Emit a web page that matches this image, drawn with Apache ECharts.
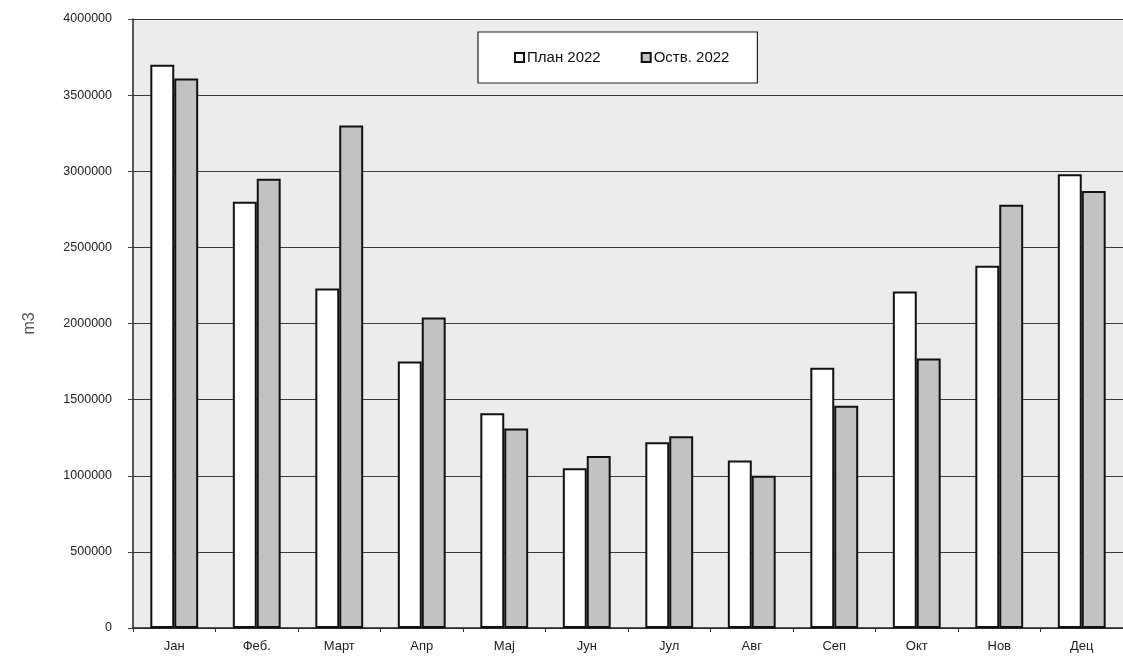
<!DOCTYPE html>
<html>
<head>
<meta charset="utf-8">
<script src="https://cdn.jsdelivr.net/npm/echarts@6/dist/echarts.min.js"></script>
<style>
html,body{margin:0;padding:0;background:#fff;}
#chart{width:1123px;height:665px;}
</style>
</head>
<body>
<div id="chart"></div>
<script>
const categories = ["Јан", "Феб.", "Март", "Апр", "Мај", "Јун", "Јул", "Авг", "Сеп", "Окт", "Нов", "Дец"];
const plan2022 = [3700000, 2800000, 2230000, 1750000, 1410000, 1050000, 1220000, 1100000, 1710000, 2210000, 2380000, 2980000];
const ostv2022 = [3610000, 2950000, 3300000, 2040000, 1310000, 1130000, 1260000, 1000000, 1460000, 1770000, 2780000, 2870000];
const seriesNames = ["План 2022", "Оств. 2022"];
const yTicks = { min: 0, max: 4000000, interval: 500000 };
const yAxisName = "m3";

const chart = echarts.init(document.getElementById('chart'), null, { renderer: 'canvas' });
const fontFam = "'Liberation Sans', Arial, sans-serif";
chart.setOption({
  backgroundColor: '#ffffff',
  animation: false,
  grid: {
    left: 133, top: 19, width: 996, height: 609,
    show: true, backgroundColor: '#ececec', borderWidth: 0
  },
  legend: {
    left: 478, top: 32,
    padding: [18, 28, 18, 36],
    itemGap: 40,
    itemWidth: 9, itemHeight: 9,
    icon: 'rect',
    backgroundColor: '#ffffff',
    borderColor: '#222', borderWidth: 1.2, borderRadius: 0,
    textStyle: { fontFamily: fontFam, fontSize: 15, color: '#111', padding: [0, 0, 0, -2] },
    itemStyle: { borderColor: '#111', borderWidth: 2 },
    data: seriesNames
  },
  xAxis: {
    type: 'category',
    data: categories,
    axisLine: { show: true, lineStyle: { color: '#222', width: 1.5 } },
    axisTick: { show: true, length: 4, lineStyle: { color: '#333' } },
    axisLabel: { fontFamily: fontFam, fontSize: 13, color: '#222', margin: 12 },
    splitLine: { show: false }
  },
  yAxis: {
    type: 'value',
    min: yTicks.min, max: yTicks.max, interval: yTicks.interval,
    name: yAxisName,
    nameLocation: 'middle',
    nameRotate: 90,
    nameGap: 95,
    nameTextStyle: { fontFamily: fontFam, fontSize: 16, color: '#555' },
    axisLine: { show: true, lineStyle: { color: '#222', width: 1.5 } },
    axisTick: { show: true, length: 5, lineStyle: { color: '#444' } },
    axisLabel: { fontFamily: fontFam, fontSize: 12.5, color: '#222', margin: 21,
                 formatter: function (v) { return String(v); } },
    splitLine: { show: true, lineStyle: { color: '#3a3a3a', width: 1 } }
  },
  series: [
    {
      name: seriesNames[0],
      type: 'bar',
      data: plan2022,
      barGap: '0%',
      barCategoryGap: '42%',
      itemStyle: { color: '#ffffff', borderColor: '#111', borderWidth: 2 }
    },
    {
      name: seriesNames[1],
      type: 'bar',
      data: ostv2022,
      itemStyle: { color: '#c2c2c2', borderColor: '#111', borderWidth: 2 }
    }
  ]
});
</script>
</body>
</html>
